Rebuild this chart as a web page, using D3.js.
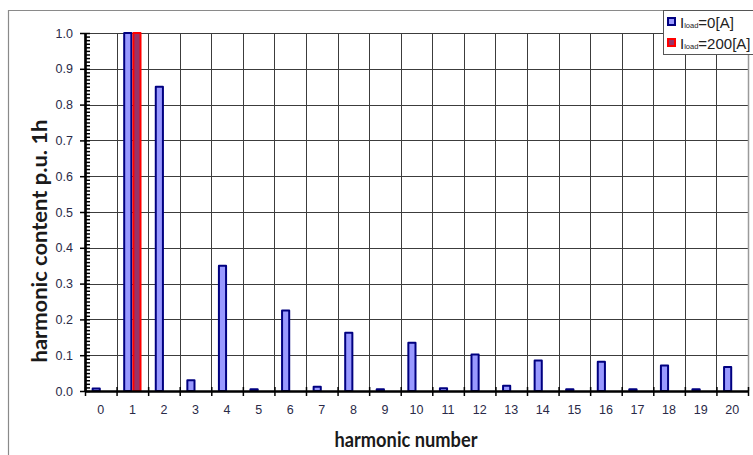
<!DOCTYPE html>
<html>
<head>
<meta charset="utf-8">
<script src="https://cdn.jsdelivr.net/npm/d3@7"></script>
<style>
  html, body { margin: 0; padding: 0; background: #fff; }
  svg { display: block; }
</style>
</head>
<body>
<svg id="chart" width="753" height="455"></svg>
<script>
// Harmonic spectrum, per unit of the fundamental (1h)
const harmonics = d3.range(0, 21);
const seriesNames = ["0[A]", "200[A]"];
const noLoad = [0.007, 1.0, 0.85, 0.03, 0.35, 0.005, 0.225, 0.012, 0.163, 0.005, 0.135,
                0.008, 0.102, 0.015, 0.085, 0.005, 0.082, 0.005, 0.071, 0.005, 0.067];
const fullLoad = [0, 1.0, 0, 0, 0, 0, 0, 0, 0, 0, 0,
                  0, 0, 0, 0, 0, 0, 0, 0, 0, 0];
const yTicks = d3.range(0, 11).map(i => i / 10);

const fills = ["#9999ff", "#993366"];
const strokes = ["#000080", "#ff0000"];

const svg = d3.select("#chart");
const plotLeft = 85, plotRight = 748, plotTop = 33, plotBottom = 391;

// outer frame
svg.append("path").attr("d", "M8.5,455 V10.5 H753")
  .attr("fill", "none").attr("stroke", "#8a8a8a").attr("stroke-width", 1.2);

const x0 = d3.scaleBand().domain(harmonics).range([plotLeft, plotRight])
  .paddingInner(0.42).paddingOuter(0.21);
const x1 = d3.scaleBand().domain([0, 1]).range([0, x0.bandwidth()]);
const xb = d3.scaleLinear().domain([0, harmonics.length]).range([plotLeft, plotRight]);
const y = d3.scaleLinear().domain([0, 1]).range([plotBottom, plotTop]);

// grid
const grid = svg.append("g").attr("stroke", "#3c3c3c").attr("stroke-width", 1);
yTicks.slice(1).forEach(v => {
  grid.append("line").attr("x1", plotLeft).attr("x2", plotRight)
    .attr("y1", Math.round(y(v)) + 0.5).attr("y2", Math.round(y(v)) + 0.5);
});
d3.range(1, harmonics.length).forEach(i => {
  grid.append("line").attr("y1", plotTop).attr("y2", plotBottom)
    .attr("x1", Math.round(xb(i)) + 0.5).attr("x2", Math.round(xb(i)) + 0.5);
});
svg.append("line").attr("x1", plotRight + 0.5).attr("x2", plotRight + 0.5)
  .attr("y1", 55).attr("y2", plotBottom).attr("stroke", "#9a9a9a").attr("stroke-width", 1.5);

// bars
const series = [noLoad, fullLoad];
series.forEach((vals, s) => {
  svg.append("g").selectAll("rect")
    .data(harmonics.filter(h => vals[h] > 0))
    .join("rect")
    .attr("x", h => x0(h) + x1(s) + 1)
    .attr("y", h => y(vals[h]))
    .attr("width", x1.bandwidth() - 2)
    .attr("height", h => Math.max(0.5, y(0) - y(vals[h])))
    .attr("fill", fills[s])
    .attr("stroke", strokes[s])
    .attr("stroke-width", 2)
    .attr("stroke-linejoin", "round");
});

const labelColor = "#2a2a48";

// y axis
const yAxis = svg.append("g").attr("transform", `translate(${plotLeft},0)`)
  .call(d3.axisLeft(y).tickValues(yTicks).tickFormat(d3.format(".1f"))
    .tickSizeInner(5).tickSizeOuter(0).tickPadding(7));
svg.append("g").attr("transform", `translate(${plotLeft},0)`)
  .call(d3.axisRight(y).tickValues(d3.range(0, 101).map(i => i / 100))
    .tickFormat("").tickSizeInner(5).tickSizeOuter(0));
yAxis.selectAll("text").attr("fill", labelColor)
  .style("font-family", "'Liberation Sans', Arial, sans-serif").style("font-size", "12.5px");

// x axis: ticks on category boundaries, labels centred on categories
svg.append("g").attr("transform", `translate(0,${plotBottom})`)
  .call(d3.axisBottom(xb).ticks(harmonics.length).tickFormat("").tickSizeInner(5).tickSizeOuter(0));
svg.append("g").attr("transform", `translate(0,${plotBottom})`)
  .call(d3.axisTop(xb).ticks(harmonics.length).tickFormat("").tickSizeInner(4).tickSizeOuter(0));
const xAxis = svg.append("g").attr("transform", `translate(0,${plotBottom})`)
  .call(d3.axisBottom(d3.scaleBand().domain(harmonics).range([plotLeft, plotRight]))
    .tickSize(0).tickPadding(14));
xAxis.select(".domain").remove();
xAxis.selectAll("text").attr("fill", labelColor)
  .style("font-family", "'Liberation Sans', Arial, sans-serif").style("font-size", "12.5px");

svg.selectAll(".domain").attr("stroke", "#000").attr("stroke-width", 2.2);
svg.selectAll(".tick line").attr("stroke", "#000").attr("stroke-width", 1.5);

// axis titles
svg.append("text").attr("x", 406).attr("y", 447)
  .attr("text-anchor", "middle").attr("fill", "#1a1a1a")
  .attr("textLength", 143).attr("lengthAdjust", "spacingAndGlyphs")
  .style("font-family", "Lato, 'Open Sans', sans-serif").style("font-weight", "bold")
  .style("font-size", "20px").text("harmonic number");
svg.append("text").attr("transform", "translate(47,241) rotate(-90)")
  .attr("text-anchor", "middle").attr("fill", "#1a1a1a")
  .attr("textLength", 243).attr("lengthAdjust", "spacingAndGlyphs")
  .style("font-family", "Lato, 'Open Sans', sans-serif").style("font-weight", "bold")
  .style("font-size", "20px").text("harmonic content p.u. 1h");

// legend
const lg = svg.append("g");
lg.append("rect").attr("x", 663.5).attr("y", 10.5).attr("width", 100).attr("height", 44)
  .attr("fill", "#fff").attr("stroke", "#555").attr("stroke-width", 1);
seriesNames.forEach((name, i) => {
  const cy = 22 + i * 21;
  lg.append("rect").attr("x", 668).attr("y", cy - 4).attr("width", 7).attr("height", 7)
    .attr("fill", fills[i]).attr("stroke", strokes[i]).attr("stroke-width", 2);
  const t = lg.append("text").attr("x", 680).attr("y", cy + 6)
    .attr("fill", "#222").style("font-family", "'Liberation Sans', Arial, sans-serif")
    .style("font-size", "15px");
  t.append("tspan").text("I");
  t.append("tspan").attr("font-size", "7.5px").text("load");
  t.append("tspan").text("=" + name);
});
</script>
</body>
</html>
